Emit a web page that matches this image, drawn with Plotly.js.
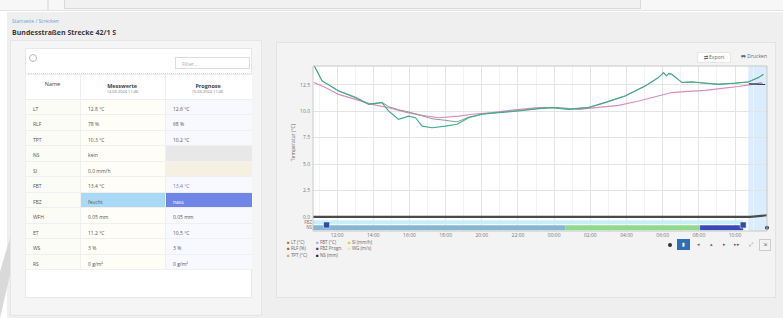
<!DOCTYPE html>
<html><head><meta charset="utf-8">
<script src="https://cdn.plot.ly/plotly-3.0.1.min.js"></script>
<style>
body{margin:0;width:783px;height:318px;overflow:hidden;background:#fff;font-family:"Open Sans",Arial,sans-serif;position:relative}
.abs{position:absolute}
.btn{position:absolute;font-size:5px;color:#666;line-height:9px;text-align:center}
.sub{position:absolute;font-size:4px;color:#777;text-align:center;width:85px}
</style></head><body>
<div class="abs" style="left:0;top:0;width:783px;height:10px;background:#f7f7f7;border-bottom:1px solid #e2e2e2"></div>
<div class="abs" style="left:64px;top:0;width:575px;height:8px;background:#f1f1f1;border:1px solid #d9d9d9;border-top:none"></div>
<div class="abs" style="left:47px;top:0;width:2px;height:10px;background:#e6e6e6"></div>
<div class="abs" style="left:7px;top:12px;width:776px;height:306px;background:#efefef"></div>
<div class="abs" style="left:0;top:215px;width:24px;height:103px;background:#d9d9d9;clip-path:polygon(100% 0,70% 0,0 55%,0 100%)"></div>
<div class="abs" style="left:12px;top:18px;font-size:5px;color:#6b9fd6">Startseite / Strecken</div>
<div class="abs" style="left:12px;top:28px;font-size:7px;font-weight:bold;color:#3a3a3a">Bundesstraßen Strecke 42/1 S</div>

<div class="abs" style="left:10px;top:40px;width:252px;height:276px;background:#f5f5f5;border:1px solid #e6e6e6;box-sizing:border-box"></div>
<div class="abs" style="left:25px;top:48px;width:227px;height:250px;background:#fff;border:1px solid #e8e8e8;box-sizing:border-box"></div>
<div class="abs" style="left:29px;top:54px;width:6px;height:6px;border-radius:50%;border:1px solid #bbb"></div>
<div class="abs" style="left:175px;top:57px;width:75px;height:12px;border:1px solid #ddd;background:#fff;font-size:5px;color:#aaa;line-height:12px;padding-left:6px;box-sizing:border-box">Filter...</div>
<div class="abs" style="left:28px;top:73px;width:222px;height:0;border-top:1px dotted #d8d8d8"></div>
<div id="tbl" class="abs" style="left:25px;top:74px;width:227px;height:200px"></div>
<div class="sub" style="left:80px;top:89px">14.03.2024 11:46</div>
<div class="sub" style="left:165px;top:89px">15.03.2024 11:46</div>

<div class="abs" style="left:276px;top:42px;width:500px;height:256px;background:#f3f3f3;border:1px solid #e3e3e3;box-sizing:border-box"></div>
<div id="chart" class="abs" style="left:276px;top:42px;width:500px;height:256px"></div>
<div class="btn" style="left:697px;top:52px;width:32px;height:9px;background:#fff;border:1px solid #e6e6e6;border-radius:2px">⇄ Export</div>
<div class="btn" style="left:737px;top:52px;width:34px;height:9px">🖶 Drucken</div>

<div class="abs" style="left:668px;top:243px;width:4px;height:4px;border-radius:50%;background:#333"></div>
<div class="btn" style="left:677px;top:239px;width:13px;height:11px;background:#2f6db5;color:#fff;line-height:11px">▮</div>
<div class="btn" style="left:693px;top:240px;width:10px;height:9px">◂</div>
<div class="btn" style="left:706px;top:240px;width:10px;height:9px">▴</div>
<div class="btn" style="left:719px;top:240px;width:10px;height:9px">▸</div>
<div class="btn" style="left:732px;top:240px;width:10px;height:9px">▸▸</div>
<div class="btn" style="left:746px;top:240px;width:10px;height:9px">⤢</div>
<div class="btn" style="left:759px;top:239px;width:10px;height:10px;border:1px solid #ccc">⇲</div>

<script>
// ---- table data ----
const rowNames = ['LT','RLF','TPT','NS','SI','FBT','FBZ','WFH','ET','WS','RS'];
const messValues = ['12.8 °C','78 %','10.3 °C','kein','0.0 mm/h','13.4 °C','feucht','0.05 mm','11.2 °C','3 %','0 g/m²'];
const progValues = ['12.6 °C','68 %','10.2 °C','','','13.4 °C','nass','0.05 mm','10.5 °C','3 %','0 g/m²'];
const headerLabels = ['Name','<b>Messwerte</b>','<b>Prognose</b>'];

// ---- chart data ----
const chartRange = ['2024-03-14 10:40','2024-03-15 11:46'];
const forecastStart = '2024-03-15 10:44';
const timesMess = ['2024-03-14 10:41','2024-03-14 10:48','2024-03-14 11:10','2024-03-14 12:05','2024-03-14 13:01','2024-03-14 13:45','2024-03-14 14:29','2024-03-14 14:51','2024-03-14 15:24','2024-03-14 15:57','2024-03-14 16:20','2024-03-14 16:42','2024-03-14 17:15','2024-03-14 17:59','2024-03-14 18:38','2024-03-14 19:16','2024-03-14 20:01','2024-03-14 20:56','2024-03-14 22:02','2024-03-14 23:08','2024-03-14 23:53','2024-03-15 00:48','2024-03-15 01:54','2024-03-15 02:49','2024-03-15 03:56','2024-03-15 05:02','2024-03-15 05:46','2024-03-15 06:03','2024-03-15 06:12','2024-03-15 06:20','2024-03-15 06:30','2024-03-15 07:04','2024-03-15 07:37','2024-03-15 08:21','2024-03-15 09:05','2024-03-15 10:00','2024-03-15 10:44','2024-03-15 11:17','2024-03-15 11:34'];
const fbtMess = [14.5,14.1,12.88,11.93,11.3,10.66,10.83,10.03,9.24,9.55,9.4,8.6,8.45,8.6,8.77,9.4,9.72,9.88,10.03,10.26,10.35,10.19,10.35,10.83,11.45,12.4,13.2,13.68,13.35,13.6,13.51,12.73,12.78,12.66,12.56,12.66,12.78,13.2,13.51];
const ltMess = [14.5,14.1,12.9,11.95,11.35,10.7,10.85,10.45,10.15,9.95,9.75,9.55,9.3,9.15,9.0,9.45,9.75,9.9,10.08,10.3,10.38,10.22,10.38,10.85,11.48,12.42,13.22,13.66,13.4,13.58,13.5,12.75,12.8,12.68,12.58,12.68,12.8,13.18,13.48];
const timesProg = ['2024-03-14 10:43','2024-03-14 11:21','2024-03-14 12:05','2024-03-14 13:01','2024-03-14 13:56','2024-03-14 14:51','2024-03-14 15:46','2024-03-14 16:42','2024-03-14 17:37','2024-03-14 18:43','2024-03-14 19:28','2024-03-14 20:34','2024-03-14 21:40','2024-03-14 23:08','2024-03-15 00:14','2024-03-15 01:21','2024-03-15 02:27','2024-03-15 03:34','2024-03-15 04:40','2024-03-15 05:46','2024-03-15 06:30','2024-03-15 07:12','2024-03-15 08:21','2024-03-15 09:16','2024-03-15 10:11','2024-03-15 10:56','2024-03-15 11:29'];
const fbtProg = [12.73,12.25,11.61,11.14,10.66,10.35,9.93,9.62,9.4,9.55,9.72,9.88,10.12,10.35,10.35,10.19,10.35,10.57,10.98,11.45,11.78,11.87,11.99,12.18,12.35,12.56,12.73];
const timesEnd = ['2024-03-15 10:46','2024-03-15 11:40'];
const fbtEnd = [12.6,12.55];
const timesNS = ['2024-03-14 10:40','2024-03-15 10:50','2024-03-15 11:46'];
const nsValues = [0.0,0.0,0.15];
const bandNames = ['NS','FBZ'];
const bandFBZ = {times:['2024-03-14 10:40','2024-03-15 10:27'], color:'#c9eef9'};
const bandNS = [
  {times:['2024-03-14 10:40','2024-03-15 00:38'], color:'#86b6d3'},
  {times:['2024-03-15 00:38','2024-03-15 08:04'], color:'#90d98d'},
  {times:['2024-03-15 08:04','2024-03-15 10:27'], color:'#3d48b8'}
];
const handleTimes = ['2024-03-14 11:25','2024-03-15 10:27'];
const legendCols = [
  [['LT (°C)','#b97a3a'],['RLF (%)','#9c6b3c'],['TPT (°C)','#d8a35c']],
  [['FBT (°C)','#a9a9e9'],['FBZ Progn.','#3b3b9b'],['NS (mm)','#222244']],
  [['SI (mm/h)','#e3cb3a'],['WG (m/s)','#f3e89a']]
];

// ---- table ----
const n = rowNames.length;
const nameFill = Array(n).fill('#fbfcf6');
const messFill = Array(n).fill('#fffef6');
const progFill = Array(n).fill('#f8f9ff');
messFill[6] = '#aad9f6'; progFill[6] = '#6f86e6';
progFill[3] = '#e8e8e8'; progFill[4] = '#f5f0e2';
const progColor = Array(n).fill('#555'); progColor[5] = '#7f6fd6'; progColor[6] = '#fff';
Plotly.newPlot('tbl', [{
  type:'table', columnwidth:[55,85,87],
  header:{values:headerLabels, align:['center','center','center'], height:25,
    fill:{color:'#fff'}, line:{color:'#eeeeee',width:1}, font:{size:5.5,color:'#444',family:'Open Sans'}},
  cells:{values:[rowNames,messValues,progValues], align:'left', height:15.5,
    fill:{color:[nameFill,messFill,progFill]}, line:{color:'#f0f0f0',width:1},
    font:{size:5,color:[Array(n).fill('#555'),Array(n).fill('#555'),progColor],family:'Open Sans'}}
}], {margin:{l:0,r:0,t:0,b:0}, paper_bgcolor:'rgba(0,0,0,0)', width:227, height:200}, {staticPlot:true});

// ---- chart ----
const traces = [
  {x:timesNS, y:nsValues, type:'scatter', mode:'lines', line:{color:'#4a4a4a',width:2.2}, xaxis:'x', yaxis:'y'},
  {x:timesProg, y:fbtProg, type:'scatter', mode:'lines', line:{color:'#d78cc2',width:1.1}},
  {x:timesMess, y:ltMess, type:'scatter', mode:'lines', line:{color:'#8d9c94',width:1}},
  {x:timesMess, y:fbtMess, type:'scatter', mode:'lines', line:{color:'#3fae86',width:1.1}},
  {x:timesEnd, y:fbtEnd, type:'scatter', mode:'lines', line:{color:'#2f3550',width:1.3}},
  {x:bandFBZ.times, y:[1,1], type:'scatter', mode:'lines', line:{color:bandFBZ.color,width:4}, xaxis:'x', yaxis:'y2'}
];
bandNS.forEach(s => traces.push({x:s.times, y:[0,0], type:'scatter', mode:'lines', line:{color:s.color,width:5}, xaxis:'x', yaxis:'y2'}));
traces.push({x:handleTimes, y:[0.5,0.5], type:'scatter', mode:'markers', marker:{symbol:'square',size:6,color:'#2b4fa8',line:{color:'#fff',width:0.5}}, xaxis:'x', yaxis:'y2'});
traces.push({x:[chartRange[1]], y:[0], type:'scatter', mode:'markers', marker:{size:4,color:'#333'}, xaxis:'x', yaxis:'y2', cliponaxis:false});

const annotations = [];
const colX = [-0.062, 0.002, 0.072];
const rowY = [-0.065, -0.105, -0.145];
legendCols.forEach((col,ci) => col.forEach((item,ri) => annotations.push({
  xref:'paper', yref:'paper', x:colX[ci], y:rowY[ri], xanchor:'left', yanchor:'middle', showarrow:false,
  text:'<span style="color:'+item[1]+'">■</span> '+item[0], font:{size:4.5,color:'#666'}
})));

Plotly.newPlot('chart', traces, {
  width:500, height:256, margin:{l:37,r:9,t:24,b:67},
  paper_bgcolor:'rgba(0,0,0,0)', plot_bgcolor:'#fff', showlegend:false,
  font:{family:'Open Sans', size:5, color:'#666'},
  xaxis:{type:'date', range:chartRange, anchor:'y2', dtick:7200000, tick0:'2024-03-14 12:00', tickformat:'%H:%M',
    showgrid:true, gridcolor:'#e4e4e4', minor:{dtick:3600000, showgrid:true, gridcolor:'#f2f2f2'},
    tickfont:{size:5,color:'#777'}, ticks:'', zeroline:false, showline:false},
  yaxis:{domain:[0.073,1], range:[-0.2,14.3], dtick:2.5, tick0:0, tickformat:'.1f', showgrid:true, gridcolor:'#e4e4e4',
    zeroline:false, tickfont:{size:5,color:'#777'}, ticklabelstandoff:2,
    title:{text:'Temperatur (°C)', font:{size:5,color:'#666'}, standoff:4}},
  yaxis2:{domain:[0,0.073], range:[-0.6,1.6], tickvals:[0,1], ticktext:bandNames, showgrid:false, zeroline:false,
    tickfont:{size:4.5,color:'#777'}},
  shapes:[
    {type:'rect', xref:'x', yref:'paper', x0:forecastStart, x1:chartRange[1], y0:0, y1:1, fillcolor:'rgba(190,220,250,0.55)', line:{width:0}, layer:'below'},
    {type:'rect', xref:'paper', yref:'paper', x0:0, x1:1, y0:0, y1:1, line:{color:'#c8c8c8',width:1}}
  ],
  annotations:annotations
}, {staticPlot:true});
</script>
</body></html>
